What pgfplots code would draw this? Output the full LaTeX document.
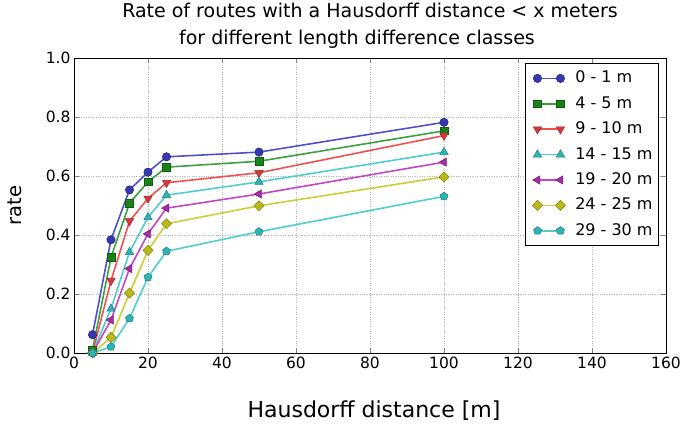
\documentclass[border=0pt]{standalone}
\usepackage{pgfplots}
\pgfplotsset{compat=1.18}
\usepackage{fontspec}
\setmainfont{DejaVu Sans}
\usetikzlibrary{plotmarks}
\definecolor{l1}{RGB}{80,80,205}
\definecolor{m1}{RGB}{55,55,175}
\definecolor{l2}{RGB}{60,160,60}
\definecolor{m2}{RGB}{25,130,25}
\definecolor{l3}{RGB}{240,80,80}
\definecolor{m3}{RGB}{220,55,55}
\definecolor{l4}{RGB}{80,205,205}
\definecolor{m4}{RGB}{45,180,180}
\definecolor{l5}{RGB}{195,70,195}
\definecolor{m5}{RGB}{170,40,170}
\definecolor{l6}{RGB}{205,205,55}
\definecolor{m6}{RGB}{185,185,25}
\pgfplotsset{
  twomarks/.style={legend image code/.code={\path (-6pt,0pt) (36pt,0pt);\draw[mark repeat=2,mark phase=1,##1] plot coordinates {(0pt,0pt)(11.5pt,0pt)(23pt,0pt)};}},
}
\begin{document}
\begin{tikzpicture}
\begin{axis}[
  name=ax,
  scale only axis, width=592pt, height=295pt,
  xmin=0, xmax=160, ymin=0, ymax=1,
  xtick={0,20,...,160}, ytick={0,0.2,0.4,0.6,0.8,1.0},
  /pgf/number format/assume math mode=true,
  yticklabel style={/pgf/number format/.cd,fixed,fixed zerofill,precision=1},
  ticklabel style={font=\fontsize{15.5}{18}\selectfont},
  tick align=inside, major tick length=5pt,
  grid=major, grid style={dotted, gray!60, line width=0.8pt},
  axis line style={line width=0.9pt},
  clip=false,
  title={Rate of routes with a Hausdorff distance < x meters\\for different length difference classes\hspace*{26pt}},
  title style={at={(axis description cs:0.5,1)}, anchor=south, yshift=3.5pt, inner sep=0pt, align=center, font=\fontsize{19}{27}\selectfont},
  xlabel={Hausdorff distance [m]},
  xlabel style={at={(axis description cs:0.5,-0.195)}, xshift=4pt, anchor=center, font=\fontsize{22}{24}\selectfont},
  ylabel={rate},
  ylabel style={at={(axis description cs:-0.0997,0.5)}, anchor=center, font=\fontsize{19.5}{24}\selectfont},
  legend style={at={(1,1)}, anchor=north east, xshift=-7pt, yshift=-5pt, draw=black, line width=0.8pt,
    font=\fontsize{16}{19}\selectfont, row sep=8.4pt, inner xsep=5pt, inner ysep=6.5pt,
    nodes={inner sep=1pt, text height=12pt, text depth=3pt}},
  legend cell align=left,
  twomarks,
  every axis plot/.append style={line width=1.6pt},
]
\addplot[color=l1, mark=*, mark size=4.2pt, mark options={fill=m1, draw=m1!70!black, line width=0.5pt}] coordinates {(5,0.062)(10,0.384)(15,0.553)(20,0.613)(25,0.665)(50,0.681)(100,0.782)};
\addlegendentry{0 - 1 m}
\addplot[color=l2, mark=square*, mark size=3.8pt, mark options={fill=m2, draw=m2!70!black, line width=0.5pt}] coordinates {(5,0.01)(10,0.324)(15,0.508)(20,0.580)(25,0.630)(50,0.650)(100,0.753)};
\addlegendentry{4 - 5 m}
\addplot[color=l3, mark=triangle*, mark size=4.8pt, mark options={rotate=180, fill=m3, draw=m3!70!black, line width=0.5pt}] coordinates {(5,0.0)(10,0.245)(15,0.447)(20,0.524)(25,0.577)(50,0.611)(100,0.737)};
\addlegendentry{9 - 10 m}
\addplot[color=l4, mark=triangle*, mark size=4.8pt, mark options={fill=m4, draw=m4!70!black, line width=0.5pt}] coordinates {(5,0)(10,0.150)(15,0.342)(20,0.460)(25,0.535)(50,0.580)(100,0.681)};
\addlegendentry{14 - 15 m}
\addplot[color=l5, mark=triangle*, mark size=4.8pt, mark options={rotate=90, fill=m5, draw=m5!70!black, line width=0.5pt}] coordinates {(5,0)(10,0.112)(15,0.286)(20,0.404)(25,0.491)(50,0.539)(100,0.647)};
\addlegendentry{19 - 20 m}
\addplot[color=l6, mark=square*, mark size=3.6pt, mark options={rotate=45, fill=m6, draw=m6!70!black, line width=0.5pt}] coordinates {(5,0)(10,0.053)(15,0.203)(20,0.348)(25,0.438)(50,0.499)(100,0.597)};
\addlegendentry{24 - 25 m}
\addplot[color=l4, mark=pentagon*, mark size=4.2pt, mark options={fill=m4, draw=m4!70!black, line width=0.5pt}] coordinates {(5,0)(10,0.021)(15,0.117)(20,0.257)(25,0.345)(50,0.411)(100,0.531)};
\addlegendentry{29 - 30 m}
\end{axis}
\pgfresetboundingbox
\path ([shift={(-74pt,-71pt)}]ax.south west) rectangle ([shift={(16pt,58pt)}]ax.north east);
\end{tikzpicture}
\end{document}
